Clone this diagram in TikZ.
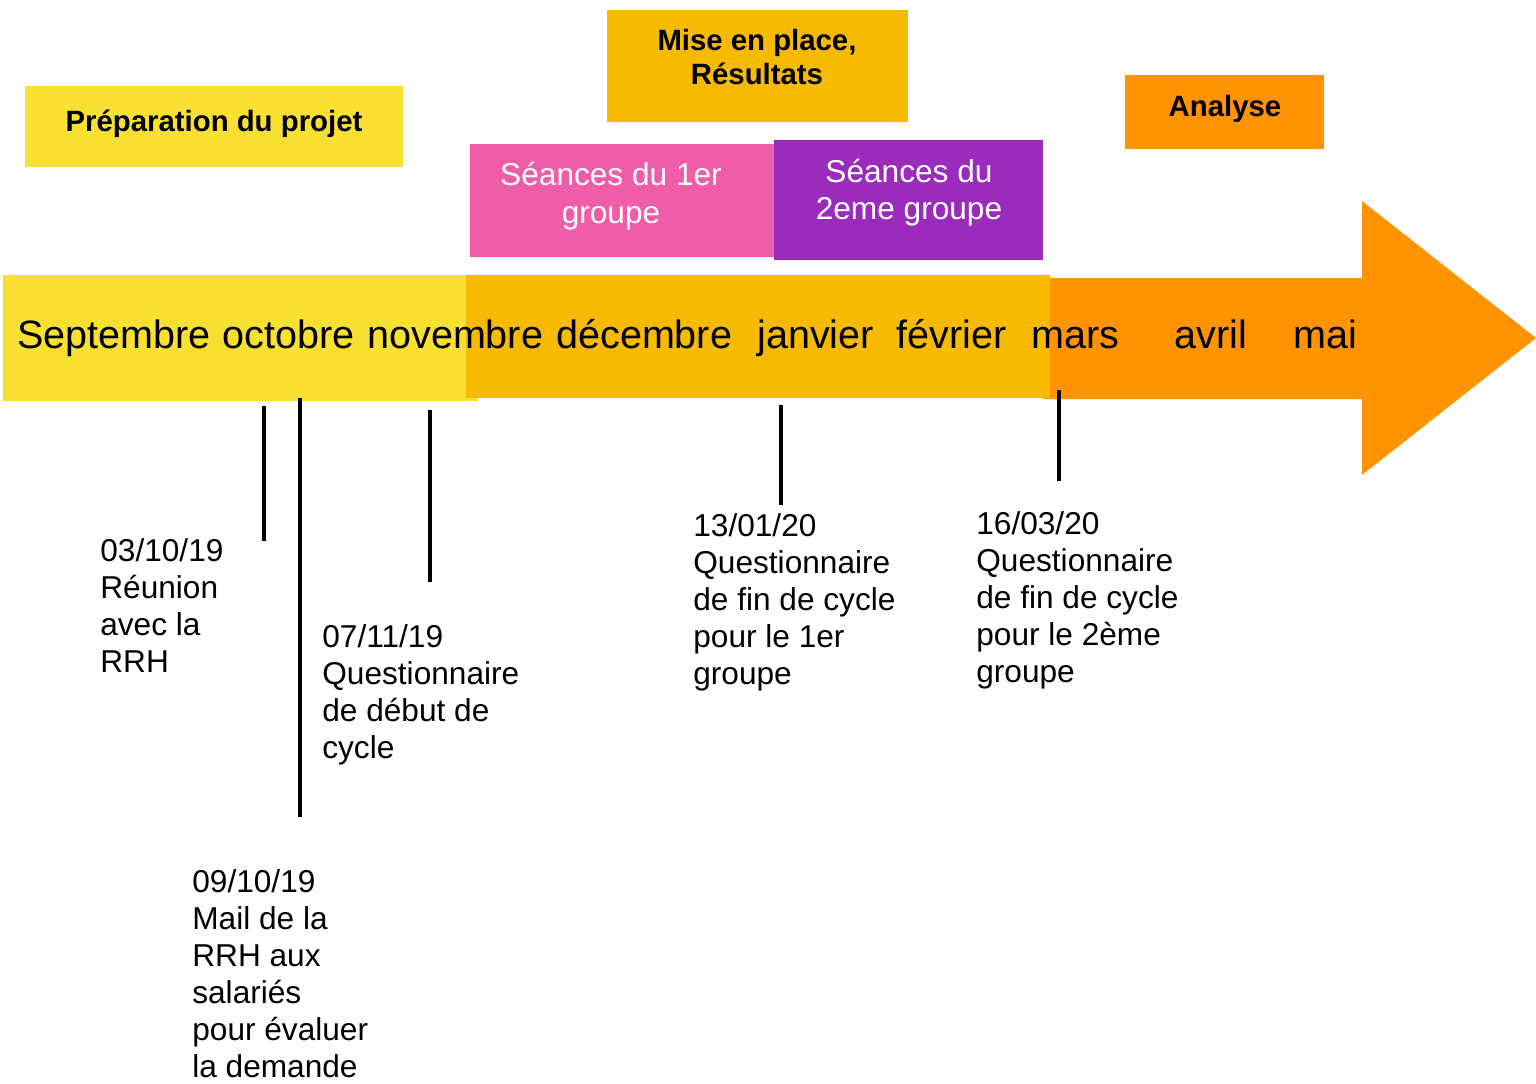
\documentclass[tikz,border=0pt]{standalone}
\usepackage{fontspec}
\setmainfont{Liberation Sans}
\usetikzlibrary{positioning}
\definecolor{prepyellow}{HTML}{F8E032}
\definecolor{goldbar}{HTML}{F6BA00}
\definecolor{analyseorange}{HTML}{FF9300}
\definecolor{groupepink}{HTML}{EF5DA8}
\definecolor{groupepurple}{HTML}{9A2BBD}

\begin{document}
\begin{tikzpicture}[
    x=0.02cm, y=-0.02cm,
    block/.style={inner sep=0pt, outer sep=0pt, anchor=north west},
    headtxt/.style={font=\fontsize{16.7}{19.3}\selectfont\bfseries, align=center, inner sep=0pt},
    grptxt/.style={font=\fontsize{18}{21.6}\selectfont, text=white, align=center, inner sep=0pt, anchor=north},
    month/.style={font=\fontsize{22.5}{27}\selectfont, inner sep=0pt, anchor=base west},
    datetxt/.style={font=\fontsize{18}{21.1}\selectfont, align=left, inner sep=0pt, anchor=north west},
    tick/.style={line width=2.3pt}
]
\useasboundingbox (0,0) rectangle (1536,1083);

% phase boxes
\node[block, fill=prepyellow, minimum width=7.56cm, minimum height=1.62cm] (prep) at (25,86) {};
\node[block, fill=goldbar, minimum width=6.02cm, minimum height=2.24cm] (mise) at (607,10) {};
\node[block, fill=groupepink, minimum width=6.08cm, minimum height=2.26cm] (grp1) at (470,144) {};
\node[block, fill=groupepurple, minimum width=5.38cm, minimum height=2.40cm] (grp2) at (774,140) {};
\node[block, fill=analyseorange, minimum width=3.98cm, minimum height=1.48cm] (analyse) at (1125,75) {};

\node[headtxt, anchor=base] (preptxt) at (214,131) {Préparation du projet};
\node[headtxt, anchor=north] (misetxt) at (757,29) {Mise en place,\\Résultats};
\node[grptxt] (grp1txt) at (611,162) {Séances du 1er\\groupe};
\node[grptxt, align=center, font=\fontsize{18}{21}\selectfont] (grp2txt) at (909,159) {Séances du\\2eme groupe};
\node[headtxt, anchor=base] (analysetxt) at (1225,116) {Analyse};

% timeline bar
\node[block, fill=prepyellow, minimum width=9.5cm, minimum height=2.52cm] (barprep) at (3,275) {};
\fill[analyseorange] (1043,278) -- (1362,278) -- (1362,201) -- (1536,338)
    -- (1362,475) -- (1362,399) -- (1043,399) -- cycle;
\node[block, fill=goldbar, minimum width=11.68cm, minimum height=2.46cm] (barmise) at (466,275) {};

\node[month] (m1) at (17,348) {Septembre};
\node[month] (m2) at (222,348) {octobre};
\node[month] (m3) at (367,348) {novembre};
\node[month] (m4) at (556,348) {décembre};
\node[month] (m5) at (757,348) {janvier};
\node[month] (m6) at (896,348) {février};
\node[month] (m7) at (1031,348) {mars};
\node[month] (m8) at (1174,348) {avril};
\node[month] (m9) at (1293,348) {mai};

% ticks
\coordinate (t1a) at (264,406);  \coordinate (t1b) at (264,541);
\coordinate (t2a) at (300,398);  \coordinate (t2b) at (300,817);
\coordinate (t3a) at (430,410);  \coordinate (t3b) at (430,582);
\coordinate (t4a) at (781,405);  \coordinate (t4b) at (781,505);
\coordinate (t5a) at (1059,390); \coordinate (t5b) at (1059,481);
\draw[tick] (t1a) -- (t1b);
\draw[tick] (t2a) -- (t2b);
\draw[tick] (t3a) -- (t3b);
\draw[tick] (t4a) -- (t4b);
\draw[tick] (t5a) -- (t5b);

% dates
\node[datetxt] (d1) at (100,538) {03/10/19\\Réunion\\avec la\\RRH};
\node[datetxt] (d2) at (322,624) {07/11/19\\Questionnaire\\de début de\\cycle};
\node[datetxt] (d3) at (192,869) {09/10/19\\Mail de la\\RRH aux\\salariés\\pour évaluer\\la demande};
\node[datetxt] (d4) at (693,513) {13/01/20\\Questionnaire\\de fin de cycle\\pour le 1er\\groupe};
\node[datetxt] (d5) at (976,511) {16/03/20\\Questionnaire\\de fin de cycle\\pour le 2ème\\groupe};
\end{tikzpicture}
\end{document}
